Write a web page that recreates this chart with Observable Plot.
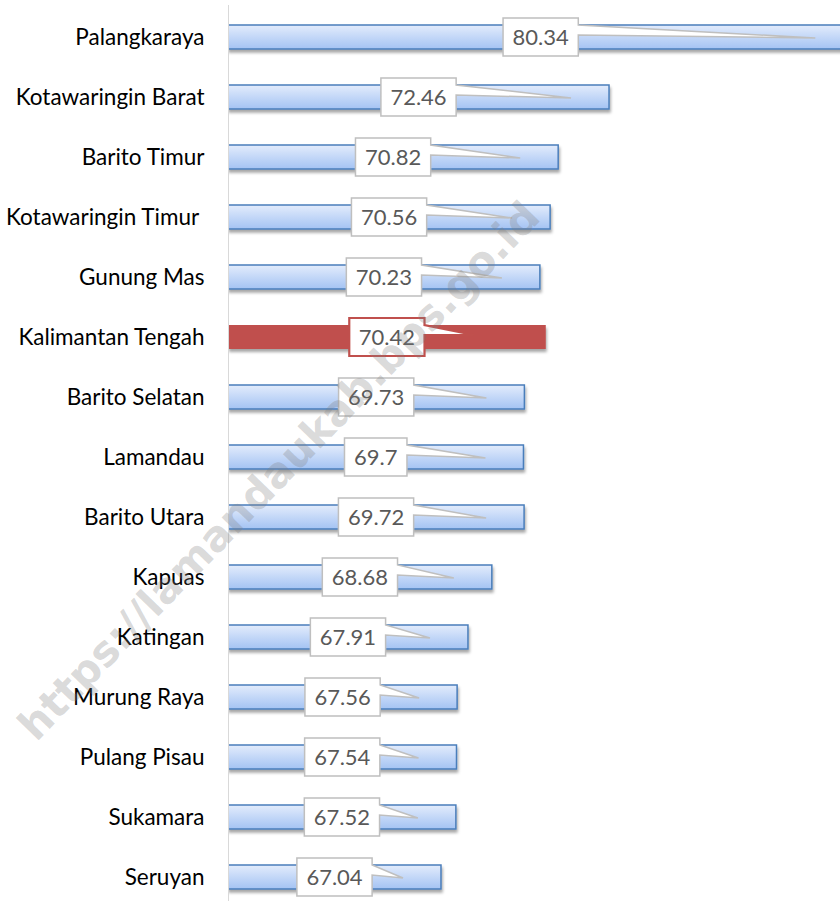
<!DOCTYPE html>
<html>
<head>
<meta charset="utf-8">
<script src="https://cdn.jsdelivr.net/npm/d3@7"></script>
<script src="https://cdn.jsdelivr.net/npm/@observablehq/plot@0.6"></script>
<style>
  body { margin: 0; background: #fff; }
  #chart svg { display: block; }
</style>
</head>
<body>
<div id="chart"></div>
<script>
const regions = [
  "Palangkaraya", "Kotawaringin Barat", "Barito Timur", "Kotawaringin Timur\u00a0",
  "Gunung Mas", "Kalimantan Tengah", "Barito Selatan", "Lamandau", "Barito Utara",
  "Kapuas", "Katingan", "Murung Raya", "Pulang Pisau", "Sukamara", "Seruyan"
];
const values = [80.34, 72.46, 70.82, 70.56, 70.23, 70.42, 69.73, 69.7, 69.72, 68.68, 67.91, 67.56, 67.54, 67.52, 67.04];
const highlight = "Kalimantan Tengah";
const watermark = "https://lamandaukab.bps.go.id";
const xDomain = [60.17, 79.91];

const data = regions.map((name, i) => ({name, value: values[i]}));
const blue = data.filter(d => d.name !== highlight);
const red = data.filter(d => d.name === highlight);

const labelFont = "22px Lato";
const measure = document.createElement("canvas").getContext("2d");
measure.font = labelFont;

const defs = () => {
  const s = d3.create("svg:defs");
  const lg = s.append("linearGradient").attr("id", "barGrad")
    .attr("x1", 0).attr("y1", 0).attr("x2", 0).attr("y2", 1);
  lg.append("stop").attr("offset", "0%").attr("stop-color", "#e3ecfc");
  lg.append("stop").attr("offset", "100%").attr("stop-color", "#a4c3f3");
  const f = s.append("filter").attr("id", "shadow")
    .attr("x", "-5%").attr("y", "-40%").attr("width", "115%").attr("height", "200%");
  f.append("feDropShadow").attr("dx", 1).attr("dy", 3).attr("stdDeviation", 1.6)
    .attr("flood-color", "#000").attr("flood-opacity", 0.35);
  return s.node();
};

const withShadow = (index, scales, values, dims, context, next) => {
  const g = next(index, scales, values, dims, context);
  g.setAttribute("filter", "url(#shadow)");
  return g;
};

const callouts = Plot.dot(data, {
  x: "value", y: "name",
  render(index, scales) {
    const g = d3.create("svg:g");
    const bw = scales.y.bandwidth ? scales.y.bandwidth() : 0;
    for (const i of index) {
      const d = data[i];
      const hi = d.name === highlight;
      const cy = scales.y(d.name) + bw / 2;
      const x0 = scales.x(xDomain[0]);
      const xe = scales.x(d.value);
      const cx = (x0 + xe) / 2;
      const label = String(d.value);
      const tw = measure.measureText(label).width;
      const w = tw + 19, h = 38;
      const left = cx - w / 2, right = cx + w / 2, top = cy - h / 2;
      const tipX = xe - (hi ? 72 : 38);
      const tipY = cy + (hi ? -2 : 1);
      const p = `M${left},${top}H${right}V${top + 7}L${tipX},${tipY}L${right},${top + 17}V${top + h}H${left}Z`;
      g.append("path").attr("d", p)
        .attr("fill", "#fff")
        .attr("stroke", hi ? "#c0504d" : "#bfbfbf")
        .attr("stroke-width", hi ? 2.2 : 1.5)
        .attr("stroke-linejoin", "miter");
      g.append("text")
        .attr("x", cx).attr("y", cy).attr("dy", "0.36em")
        .attr("text-anchor", "middle")
        .attr("fill", "#595959")
        .style("font", labelFont)
        .text(label);
    }
    return g.node();
  }
});

const chart = Plot.plot({
  width: 840,
  height: 901,
  marginLeft: 228,
  marginRight: 0,
  marginTop: 5,
  marginBottom: 0,
  style: {fontFamily: "Lato", fontSize: "22.5px", color: "#000", background: "#fff"},
  x: {domain: xDomain, axis: null},
  y: {domain: regions, range: [6, 907], padding: 0, axis: null},
  marks: [
    defs,
    Plot.barX(blue, {x1: xDomain[0], x2: "value", y: "name", insetTop: 18, insetBottom: 18,
      fill: "url(#barGrad)", stroke: "#4a7ebb", strokeWidth: 1.5, clip: true, render: withShadow}),
    Plot.barX(red, {x1: xDomain[0], x2: "value", y: "name", insetTop: 18, insetBottom: 18,
      fill: "#c0504d", clip: true, render: withShadow}),
    Plot.ruleX([xDomain[0]], {stroke: "#d9d9d9", strokeWidth: 1}),
    Plot.axisY({tickSize: 0, tickPadding: 24, label: null, fontSize: 22.5, fill: "#000"}),
    callouts,
    Plot.text([watermark], {text: d => d, frameAnchor: "middle", dx: -255, dy: 18, rotate: -46,
      fontSize: 42, fontWeight: "bold", fontFamily: "DejaVu Sans", fill: "#808080", fillOpacity: 0.3})
  ]
});
document.getElementById("chart").appendChild(chart);
</script>
</body>
</html>
